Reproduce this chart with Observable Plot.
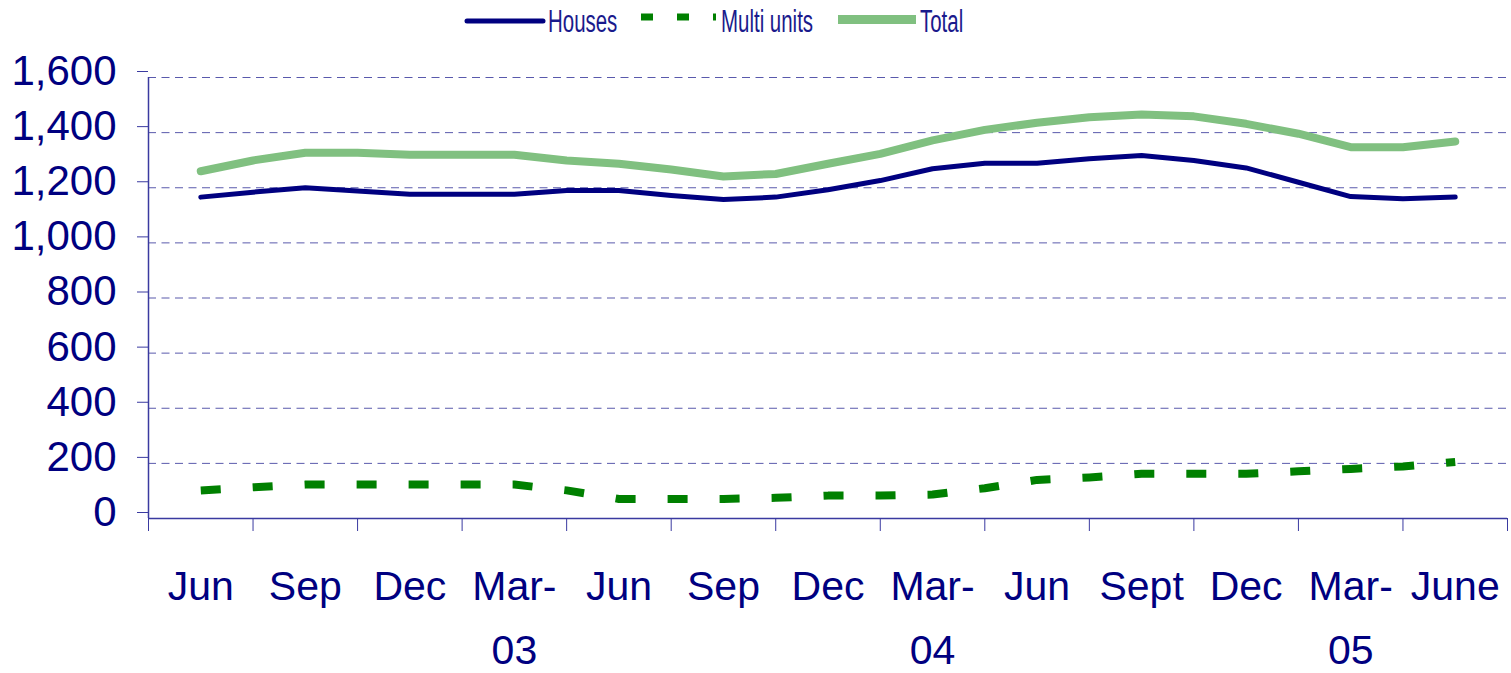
<!DOCTYPE html>
<html>
<head>
<meta charset="utf-8">
<script src="https://cdn.jsdelivr.net/npm/d3@7"></script>
<script src="https://cdn.jsdelivr.net/npm/@observablehq/plot@0.6"></script>
<style>
  body { margin: 0; background: #fff; }
  #wrap { position: relative; width: 1511px; height: 673px; overflow: hidden; font-family: "Liberation Sans", Arial, sans-serif; background: #fff; }
  #legend { position: absolute; left: 0; top: 0; }
  #chart { position: absolute; left: 0; top: 44px; }
</style>
</head>
<body>
<div id="wrap">
  <div id="legend"></div>
  <div id="chart"></div>
</div>
<script>
// Tick labels for the x axis (one per quarter; data points are at half-quarter spacing)
const xLabels = ["Jun", "Sep", "Dec", "Mar-\n03", "Jun", "Sep", "Dec", "Mar-\n04", "Jun", "Sept", "Dec", "Mar-\n05", "June"];

// Series values (25 points each)
const houses = [1166, 1184, 1200, 1188, 1176, 1176, 1176, 1190, 1190, 1172, 1157, 1166, 1193, 1226, 1269, 1289, 1289, 1305, 1317, 1299, 1272, 1220, 1168, 1160, 1166];
const multiUnits = [102, 113, 123, 123, 123, 123, 123, 102, 71, 71, 71, 75, 83, 83, 87, 110, 140, 149, 162, 162, 162, 171, 180, 189, 205];
const total = [1260, 1299, 1327, 1327, 1320, 1320, 1320, 1299, 1287, 1266, 1241, 1250, 1287, 1323, 1372, 1410, 1436, 1456, 1466, 1459, 1432, 1396, 1347, 1347, 1368];

const yTicks = [0, 200, 400, 600, 800, 1000, 1200, 1400, 1600];
const seriesNames = ["Houses", "Multi units", "Total"];

const rows = houses.map((h, i) => ({ i, houses: h, multi: multiUnits[i], total: total[i] }));
const labelTicks = xLabels.map((_, k) => 2 * k);
const boundaryTicks = d3.range(-1, 26, 2);

const NAVY = "#000080";
const AXIS = "#3a3aa0";
const GREEN = "#008000";
const LIGHTGREEN = "#80c080";
const FONT = "Liberation Sans, Arial, sans-serif";

const chart = Plot.plot({
  width: 1511,
  height: 629,
  marginLeft: 148,
  marginRight: 4,
  marginTop: 33,
  marginBottom: 155,
  style: { fontFamily: FONT, background: "white", color: NAVY, overflow: "visible" },
  x: { domain: [-1, 25], axis: null },
  y: { domain: [0, 1600], axis: null },
  marks: [
    Plot.gridY(yTicks.filter(v => v > 0), { stroke: NAVY, strokeOpacity: 0.65, strokeWidth: 1, strokeDasharray: "8 5.5" }),
    Plot.line(rows, { x: "i", y: "total", stroke: LIGHTGREEN, strokeWidth: 8, curve: "linear" }),
    Plot.line(rows, { x: "i", y: "houses", stroke: NAVY, strokeWidth: 5, strokeLinecap: "round", curve: "linear" }),
    Plot.line(rows, { x: "i", y: "multi", stroke: GREEN, strokeWidth: 8, strokeDasharray: "20 32", strokeLinecap: "butt", curve: "linear" }),
    Plot.ruleY([0], { stroke: AXIS, strokeWidth: 1.5 }),
    Plot.ruleX([-1], { y1: 0, y2: 1600, stroke: AXIS, strokeWidth: 1.5 }),
    Plot.axisY({ ticks: yTicks, tickSize: 11, tickPadding: 21, tickFormat: d3.format(","), fontSize: 42, fill: NAVY, stroke: AXIS, dy: -6, label: null }),
    Plot.axisX({ ticks: boundaryTicks, tickSize: 13, tickFormat: () => "", stroke: AXIS, label: null }),
    Plot.axisX({ ticks: labelTicks, tickSize: 0, tickPadding: 36, tickFormat: i => xLabels[i / 2], fontSize: 41, lineHeight: 1.56, fill: NAVY, label: null })
  ]
});
document.getElementById("chart").appendChild(chart);

// Legend (above the chart)
const lg = d3.select("#legend").append("svg").attr("width", 1511).attr("height", 44);
lg.append("line").attr("x1", 467).attr("x2", 543).attr("y1", 21).attr("y2", 21)
  .attr("stroke", NAVY).attr("stroke-width", 5).attr("stroke-linecap", "round");
lg.append("line").attr("x1", 641).attr("x2", 716).attr("y1", 17).attr("y2", 17)
  .attr("stroke", GREEN).attr("stroke-width", 7).attr("stroke-dasharray", "12 24");
lg.append("line").attr("x1", 838).attr("x2", 916).attr("y1", 19.5).attr("y2", 19.5)
  .attr("stroke", LIGHTGREEN).attr("stroke-width", 9);
const textX = [548, 721, 920];
seriesNames.forEach((name, k) => {
  lg.append("text").attr("transform", `translate(${textX[k]},32) scale(0.66,1)`)
    .attr("font-family", FONT).attr("font-size", 31).attr("fill", "#1a1a8c").text(name);
});
</script>
</body>
</html>
